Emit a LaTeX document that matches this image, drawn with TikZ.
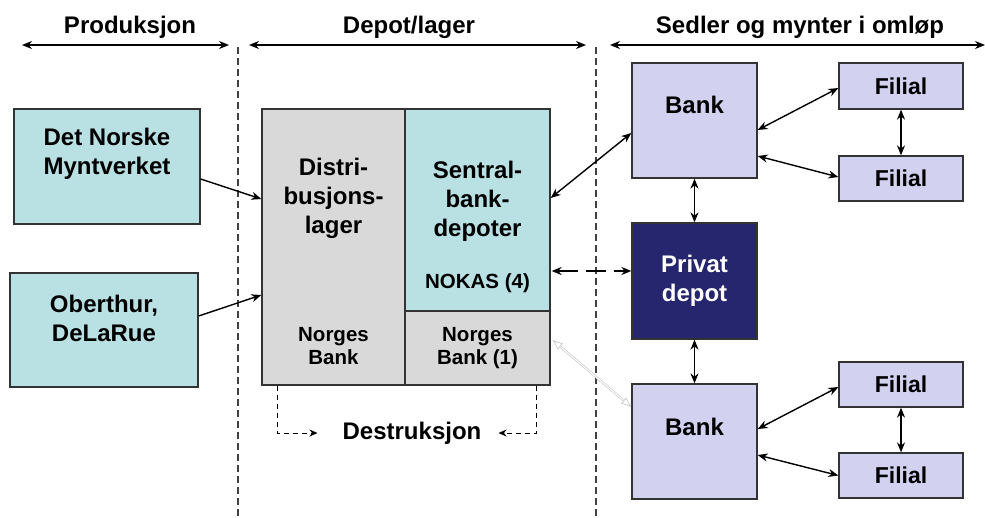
\documentclass[tikz,border=0pt]{standalone}
\usepackage{fontspec}
\setmainfont{Liberation Sans}
\usetikzlibrary{positioning, calc, arrows.meta}
\definecolor{myntteal}{HTML}{B9E0E3}
\definecolor{lagergray}{HTML}{D9D9D9}
\definecolor{banklilac}{HTML}{D2D2F0}
\definecolor{privatnavy}{HTML}{26266E}
\tikzset{>={Stealth[length=10pt, width=8pt]}}

\begin{document}
\begin{tikzpicture}
    [x=1pt, y=-1pt,
     every node/.style={font=\bfseries\fontsize{24}{29}\selectfont, align=center, inner sep=0pt},
     small/.style={font=\bfseries\fontsize{20.5}{23}\selectfont},
     filial/.style={box, fill=banklilac, minimum width=124, minimum height=45, font=\bfseries\fontsize{23}{28}\selectfont},
     box/.style={draw=black!80, line width=1.3pt},
     link/.style={<->, line width=1.4pt},
     feed/.style={->, line width=1.4pt},
     divider/.style={draw=black!75, line width=1.6pt, dash pattern=on 7pt off 4pt},
     destr/.style={->, line width=1pt, dash pattern=on 5pt off 4pt, >={Stealth[length=8pt, width=7pt]}}]
    \useasboundingbox (0,0) rectangle (985,517);

    % kolonner
    \node (prod) at (130,27) {Produksjon};
    \node (depot) at (409,27) {Depot/lager};
    \node (omlop) at (800,27) {Sedler og mynter i omløp};
    \draw [link] (22,45) -- (229,45);
    \draw [link] (249,45) -- (586,45);
    \draw [link] (610,45) -- (985,45);
    \draw [divider] (238,47) -- (238,517);
    \draw [divider] (596,47) -- (596,517);

    % produksjon
    \node [box, fill=myntteal, minimum width=186, minimum height=115] (mynt) at (107,166.5) {};
    \node (myntlbl) at (107,154) {Det Norske\\Myntverket};
    \node [box, fill=myntteal, minimum width=188, minimum height=114] (ober) at (104,330) {};
    \node (oberlbl) at (104,318.5) {Oberthur,\\DeLaRue};

    % depot/lager
    \node [box, fill=lagergray, minimum width=143, minimum height=276] (distr) at (333.5,247) {};
    \node (distrlbl) at (333.5,198) {Distri-\\busjons-\\lager};
    \node [small] (distrnb) at (333.5,346.5) {Norges\\Bank};
    \node [box, fill=myntteal, minimum width=145, minimum height=202] (sentral) at (477.5,210) {};
    \node (sentrallbl) at (477.5,201.5) {Sentral-\\bank-\\depoter};
    \node [small] (nokas) at (477.5,283) {NOKAS (4)};
    \node [box, fill=lagergray, minimum width=145, minimum height=74, small] (nbank) at (477.5,348) {Norges\\Bank (1)};
    \node (destruk) at (412,433) {Destruksjon};

    % omloep
    \node [box, fill=banklilac, minimum width=125, minimum height=115] (bankA) at (694.5,120.5) {};
    \node (bankAlbl) at (694.5,105) {Bank};
    \node [box, fill=privatnavy, minimum width=125, minimum height=116, text=white] (privat) at (694.5,281) {Privat\\depot};
    \node [box, fill=banklilac, minimum width=125, minimum height=115] (bankB) at (694.5,441.5) {};
    \node (bankBlbl) at (694.5,427) {Bank};
    \node [filial, minimum height=46] (filA) at (901,86) {Filial};
    \node [filial] (filB) at (901,178.5) {Filial};
    \node [filial] (filC) at (901,384.5) {Filial};
    \node [filial] (filD) at (901,475.5) {Filial};

    % flyt
    \draw [feed] ($(mynt.east)+(0,12.5)$) -- ($(distr.west)+(0,-48)$);
    \draw [feed] ($(ober.east)+(0,-14)$) -- ($(distr.west)+(0,48)$);
    \draw [link] ($(sentral.east)+(0,-12)$) -- ($(bankA.west)+(0,12.5)$);
    \draw [link, line width=2.4pt, dash pattern=on 20pt off 8pt] ($(sentral.east)+(1,61)$) -- ($(privat.west)+(0,-10)$);
    \draw [<->, >={Latex[open, length=10pt, width=8pt]}, draw=gray!55, double=white, double distance=1.2pt, line width=0.5pt]
      ($(nbank.east)+(2,-8)$) -- ($(bankB.west)+(0,-34.5)$);
    \draw [destr] ($(distr.south west)+(16,0)$) |- ($(destruk.west)+(-25,0)$);
    \draw [destr] ($(nbank.south east)+(-14,0)$) |- ($(destruk.east)+(17,0)$);

    \draw [link] ($(bankA.east)+(0,9.5)$) -- ($(filA.west)+(0,2)$);
    \draw [link] ($(bankA.east)+(0,35.5)$) -- ($(filB.west)+(0,-1.5)$);
    \draw [link] (filA) -- (filB);
    \draw [link] (bankA) -- (privat);
    \draw [link] (privat) -- (bankB);
    \draw [link] ($(bankB.east)+(0,-12.5)$) -- ($(filC.west)+(0,2.5)$);
    \draw [link] ($(bankB.east)+(0,13.5)$) -- (filD.west);
    \draw [link] (filC) -- (filD);
  \end{tikzpicture}
\end{document}
